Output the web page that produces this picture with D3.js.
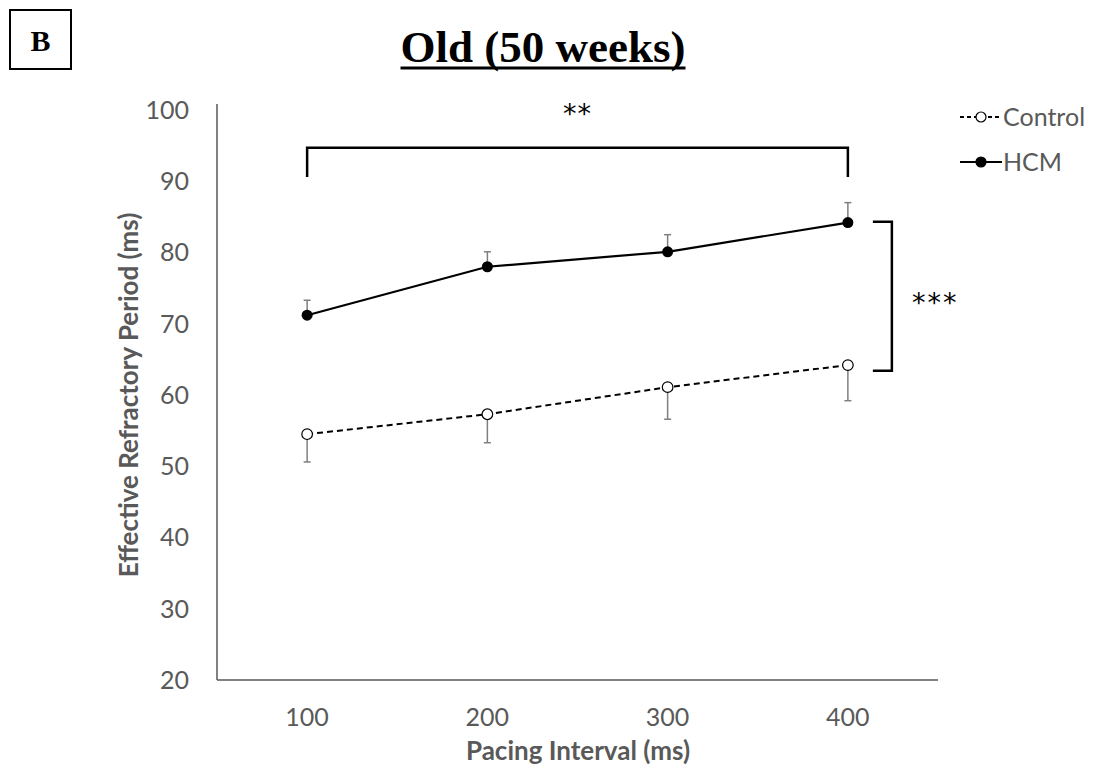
<!DOCTYPE html>
<html>
<head>
<meta charset="utf-8">
<script src="https://cdn.jsdelivr.net/npm/d3@7"></script>
<style>
  body { margin: 0; background: #fff; }
</style>
</head>
<body>
<script>
// pacing intervals (ms) on the x axis
let intervals = [100, 200, 300, 400];
let yTicks = [20, 30, 40, 50, 60, 70, 80, 90, 100];

// mean ERP (ms) and error bar ends
let hcmMean = [71.2, 78.0, 80.1, 84.2];
let hcmUpper = [73.3, 80.1, 82.5, 87.0];
let controlMean = [54.5, 57.3, 61.1, 64.2];
let controlLower = [50.6, 53.3, 56.6, 59.2];

// significance brackets: [value where bracket sits, value where legs end]
let topBracket = [94.7, 90.6];
let sideBracket = [84.3, 63.4];

let width = 1096;
let height = 769;

let svg = d3.select("body")
    .append("svg")
    .attr("width", width)
    .attr("height", height);

let xScale = d3.scalePoint()
    .domain(intervals)
    .range([217, 938])
    .padding(0.5);

let yScale = d3.scaleLinear()
    .domain([20, 100])
    .range([680, 110]);

let sans = "Lato, 'Open Sans', sans-serif";
let serif = "'Liberation Serif', serif";
let grey = "#595959";

// panel letter
svg.append("rect")
    .attr("x", 10).attr("y", 10)
    .attr("width", 61).attr("height", 59)
    .attr("fill", "none")
    .attr("stroke", "#000")
    .attr("stroke-width", 2);
svg.append("text")
    .attr("x", 40.5).attr("y", 51)
    .attr("text-anchor", "middle")
    .attr("font-family", serif)
    .attr("font-weight", "bold")
    .attr("font-size", "30px")
    .text("B");

// title with underline
let title = svg.append("text")
    .attr("x", 543).attr("y", 62)
    .attr("text-anchor", "middle")
    .attr("font-family", serif)
    .attr("font-weight", "bold")
    .attr("font-size", "45px")
    .text("Old (50 weeks)");
let tw = title.node().getComputedTextLength();
svg.append("line")
    .attr("x1", 543 - tw / 2).attr("x2", 543 + tw / 2)
    .attr("y1", 68).attr("y2", 68)
    .attr("stroke", "#000")
    .attr("stroke-width", 3);

// axes lines
svg.append("line")
    .attr("x1", 217).attr("x2", 217)
    .attr("y1", yScale(100) - 6).attr("y2", yScale(20))
    .attr("stroke", grey).attr("stroke-width", 1.5);
svg.append("line")
    .attr("x1", 217).attr("x2", 938)
    .attr("y1", yScale(20)).attr("y2", yScale(20))
    .attr("stroke", grey).attr("stroke-width", 1.5);

// tick labels
svg.selectAll(".ytick")
    .data(yTicks)
    .enter()
    .append("text")
    .attr("class", "ytick")
    .attr("x", 189)
    .attr("y", (d) => yScale(d))
    .attr("dy", "0.35em")
    .attr("text-anchor", "end")
    .attr("font-family", sans)
    .attr("font-size", "25px")
    .attr("fill", grey)
    .text((d) => d);

svg.selectAll(".xtick")
    .data(intervals)
    .enter()
    .append("text")
    .attr("class", "xtick")
    .attr("x", (d) => xScale(d))
    .attr("y", 717)
    .attr("dy", "0.35em")
    .attr("text-anchor", "middle")
    .attr("font-family", sans)
    .attr("font-size", "25px")
    .attr("fill", grey)
    .text((d) => d);

// axis titles
svg.append("text")
    .attr("x", 578).attr("y", 760)
    .attr("text-anchor", "middle")
    .attr("font-family", sans)
    .attr("font-weight", "bold")
    .attr("font-size", "26px")
    .attr("fill", grey)
    .text("Pacing Interval (ms)");
svg.append("text")
    .attr("transform", "translate(138," + yScale(60) + ") rotate(-90)")
    .attr("text-anchor", "middle")
    .attr("font-family", sans)
    .attr("font-weight", "bold")
    .attr("font-size", "26px")
    .attr("fill", grey)
    .text("Effective Refractory Period (ms)");

// error bars
function errorBars(means, ends) {
    let g = svg.append("g")
        .attr("stroke", "#7f7f7f")
        .attr("stroke-width", 1.5);
    intervals.forEach((d, i) => {
        let x = xScale(d);
        g.append("line")
            .attr("x1", x).attr("x2", x)
            .attr("y1", yScale(means[i])).attr("y2", yScale(ends[i]));
        g.append("line")
            .attr("x1", x - 3.5).attr("x2", x + 3.5)
            .attr("y1", yScale(ends[i])).attr("y2", yScale(ends[i]));
    });
}
errorBars(hcmMean, hcmUpper);
errorBars(controlMean, controlLower);

let line = d3.line()
    .x((d) => xScale(d[0]))
    .y((d) => yScale(d[1]));

// control series
svg.append("path")
    .datum(d3.zip(intervals, controlMean))
    .attr("d", line)
    .attr("fill", "none")
    .attr("stroke", "#000")
    .attr("stroke-width", 2)
    .attr("stroke-dasharray", "6,4");
svg.selectAll(".ctrl")
    .data(d3.zip(intervals, controlMean))
    .enter()
    .append("circle")
    .attr("class", "ctrl")
    .attr("cx", (d) => xScale(d[0]))
    .attr("cy", (d) => yScale(d[1]))
    .attr("r", 5.3)
    .attr("fill", "#fff")
    .attr("stroke", "#000")
    .attr("stroke-width", 1.2);

// HCM series
svg.append("path")
    .datum(d3.zip(intervals, hcmMean))
    .attr("d", line)
    .attr("fill", "none")
    .attr("stroke", "#000")
    .attr("stroke-width", 2.2);
svg.selectAll(".hcm")
    .data(d3.zip(intervals, hcmMean))
    .enter()
    .append("circle")
    .attr("class", "hcm")
    .attr("cx", (d) => xScale(d[0]))
    .attr("cy", (d) => yScale(d[1]))
    .attr("r", 5.5)
    .attr("fill", "#000");

// significance brackets
let x1 = xScale(100), x4 = xScale(400);
svg.append("path")
    .attr("d", d3.line()([[x1, yScale(topBracket[1])], [x1, yScale(topBracket[0])],
        [x4, yScale(topBracket[0])], [x4, yScale(topBracket[1])]]))
    .attr("fill", "none")
    .attr("stroke", "#000")
    .attr("stroke-width", 2.5);
svg.append("text")
    .attr("x", (x1 + x4) / 2).attr("y", yScale(topBracket[0]) - 25)
    .attr("text-anchor", "middle")
    .attr("font-family", "'DejaVu Sans', sans-serif")
    .attr("font-size", "27px")
    .attr("letter-spacing", "1px")
    .text("**");

let bx = x4 + 44;
svg.append("path")
    .attr("d", d3.line()([[x4 + 25, yScale(sideBracket[0])], [bx, yScale(sideBracket[0])],
        [bx, yScale(sideBracket[1])], [x4 + 25, yScale(sideBracket[1])]]))
    .attr("fill", "none")
    .attr("stroke", "#000")
    .attr("stroke-width", 2.5);
svg.append("text")
    .attr("x", bx + 20).attr("y", (yScale(sideBracket[0]) + yScale(sideBracket[1])) / 2 + 16)
    .attr("font-family", "'DejaVu Sans', sans-serif")
    .attr("font-size", "27px")
    .attr("letter-spacing", "2px")
    .text("***");

// legend
let legend = [
    { name: "Control", y: 117, dash: "4,3", fill: "#fff" },
    { name: "HCM", y: 162, dash: null, fill: "#000" }
];
legend.forEach((d) => {
    svg.append("line")
        .attr("x1", 960).attr("x2", 1002)
        .attr("y1", d.y).attr("y2", d.y)
        .attr("stroke", "#000")
        .attr("stroke-width", 2)
        .attr("stroke-dasharray", d.dash);
    svg.append("circle")
        .attr("cx", 981).attr("cy", d.y)
        .attr("r", 5)
        .attr("fill", d.fill)
        .attr("stroke", "#000")
        .attr("stroke-width", 1.2);
    svg.append("text")
        .attr("x", 1003).attr("y", d.y)
        .attr("dy", "0.35em")
        .attr("font-family", sans)
        .attr("font-size", "25px")
        .attr("fill", grey)
        .text(d.name);
});
</script>
</body>
</html>
